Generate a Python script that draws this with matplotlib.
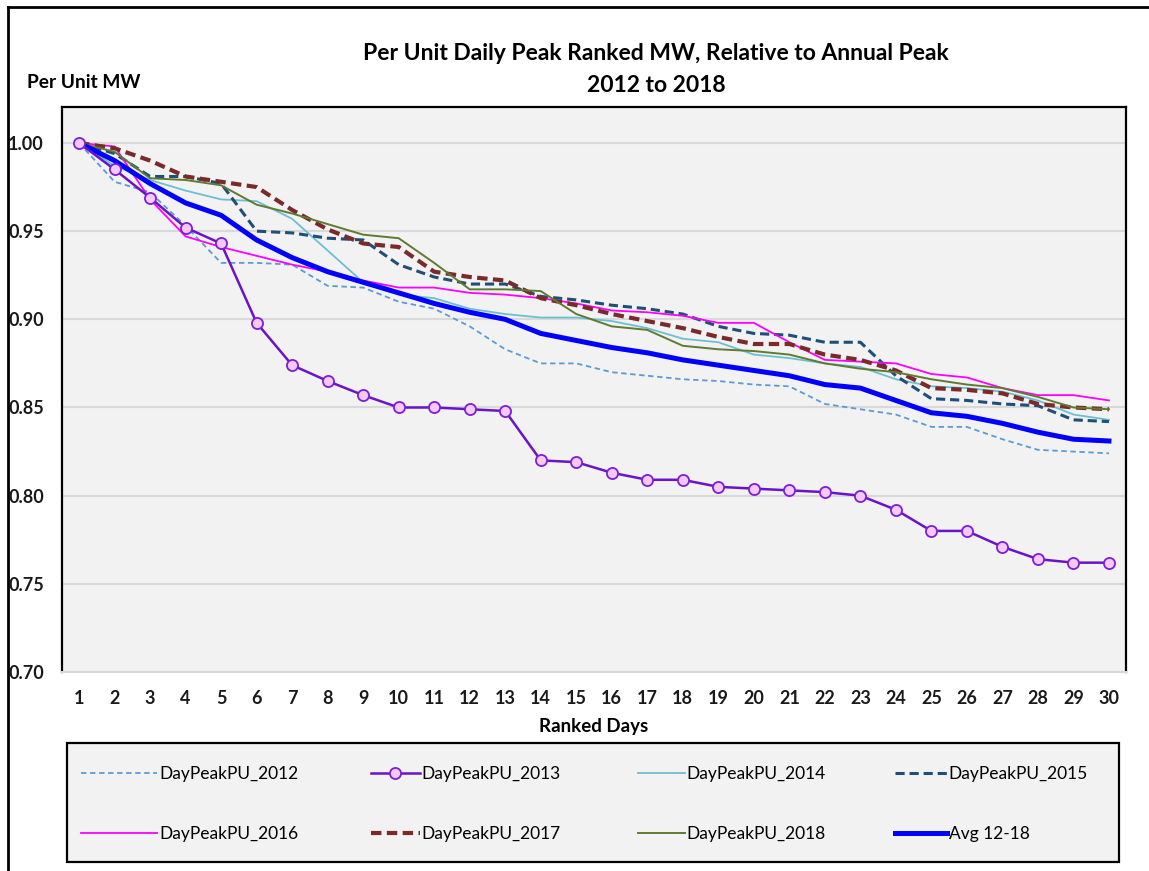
import matplotlib
matplotlib.use("Agg")
import matplotlib.pyplot as plt
from matplotlib.lines import Line2D
from matplotlib.patches import Rectangle

plt.rcParams["font.family"] = ["Lato", "DejaVu Sans"]

# ranked days and per-unit daily peaks
days = list(range(1, 31))
pu_2012 = [1.000, 0.978, 0.972, 0.953, 0.932, 0.932, 0.931, 0.919, 0.918, 0.910,
           0.906, 0.896, 0.883, 0.875, 0.875, 0.870, 0.868, 0.866, 0.865, 0.863,
           0.862, 0.852, 0.849, 0.846, 0.839, 0.839, 0.832, 0.826, 0.825, 0.824]
pu_2013 = [1.000, 0.985, 0.969, 0.952, 0.943, 0.898, 0.874, 0.865, 0.857, 0.850,
           0.850, 0.849, 0.848, 0.820, 0.819, 0.813, 0.809, 0.809, 0.805, 0.804,
           0.803, 0.802, 0.800, 0.792, 0.780, 0.780, 0.771, 0.764, 0.762, 0.762]
pu_2014 = [1.000, 0.987, 0.979, 0.973, 0.968, 0.967, 0.957, 0.939, 0.921, 0.914,
           0.912, 0.906, 0.903, 0.901, 0.901, 0.899, 0.895, 0.889, 0.887, 0.880,
           0.878, 0.875, 0.873, 0.866, 0.862, 0.861, 0.859, 0.854, 0.846, 0.843]
pu_2015 = [1.000, 0.994, 0.981, 0.981, 0.977, 0.950, 0.949, 0.946, 0.945, 0.931,
           0.924, 0.920, 0.920, 0.913, 0.911, 0.908, 0.906, 0.903, 0.896, 0.892,
           0.891, 0.887, 0.887, 0.868, 0.855, 0.854, 0.852, 0.851, 0.843, 0.842]
pu_2016 = [1.000, 0.998, 0.968, 0.947, 0.941, 0.936, 0.931, 0.927, 0.922, 0.918,
           0.918, 0.915, 0.914, 0.912, 0.909, 0.905, 0.904, 0.902, 0.898, 0.898,
           0.887, 0.877, 0.876, 0.875, 0.869, 0.867, 0.861, 0.857, 0.857, 0.854]
pu_2017 = [1.000, 0.997, 0.990, 0.981, 0.978, 0.975, 0.962, 0.951, 0.943, 0.941,
           0.927, 0.924, 0.922, 0.912, 0.908, 0.903, 0.899, 0.895, 0.890, 0.886,
           0.886, 0.880, 0.877, 0.871, 0.861, 0.860, 0.858, 0.852, 0.850, 0.849]
pu_2018 = [1.000, 0.995, 0.980, 0.979, 0.976, 0.965, 0.960, 0.954, 0.948, 0.946,
           0.932, 0.917, 0.917, 0.916, 0.903, 0.896, 0.894, 0.885, 0.883, 0.882,
           0.880, 0.875, 0.872, 0.870, 0.866, 0.863, 0.861, 0.856, 0.850, 0.849]
avg_12_18 = [1.000, 0.990, 0.977, 0.966, 0.959, 0.945, 0.935, 0.927, 0.921, 0.915,
             0.909, 0.904, 0.900, 0.892, 0.888, 0.884, 0.881, 0.877, 0.874, 0.871,
             0.868, 0.863, 0.861, 0.854, 0.847, 0.845, 0.841, 0.836, 0.832, 0.831]
y_ticks = [0.70, 0.75, 0.80, 0.85, 0.90, 0.95, 1.00]

W, H = 1149, 871
fig = plt.figure(figsize=(W / 100, H / 100), dpi=100)
fig.patch.set_facecolor("white")

# frame lines of the original screenshot (top and left only)
fig.add_artist(Line2D([8 / W, 1], [1 - 7 / H, 1 - 7 / H], color="black", lw=2))
fig.add_artist(Line2D([8 / W, 8 / W], [0, 1 - 7 / H], color="black", lw=2))

ax = fig.add_axes([62 / W, 1 - 672 / H, (1126 - 62) / W, (672 - 107) / H])
ax.set_facecolor("#F2F2F2")

series = [
    ("DayPeakPU_2012", pu_2012, dict(color="#5B9BD5", lw=1.3, ls=(0, (3, 2)))),
    ("DayPeakPU_2013", pu_2013, dict(color="#6A13C8", lw=1.8, marker="o", ms=8,
                                     mfc="#F5C8FF", mec="#7A1FD8", mew=1.3)),
    ("DayPeakPU_2014", pu_2014, dict(color="#6CBFD3", lw=1.3)),
    ("DayPeakPU_2015", pu_2015, dict(color="#1F4E79", lw=2.2, ls=(0, (3, 1.6)))),
    ("DayPeakPU_2016", pu_2016, dict(color="#FF00FF", lw=1.3)),
    ("DayPeakPU_2017", pu_2017, dict(color="#7B2A2A", lw=3.0, ls=(0, (2.5, 1.3)))),
    ("DayPeakPU_2018", pu_2018, dict(color="#5F7A32", lw=1.4)),
    ("Avg 12-18", avg_12_18, dict(color="#0000FF", lw=3.6)),
]

handles = []
for i, (name, vals, style) in enumerate(series):
    z = 10 if "marker" in style else 3 + i * 0.1
    h, = ax.plot(days, vals, label=name, zorder=z, **style)
    handles.append(h)

ax.set_xlim(0.52, 30.48)
ax.set_ylim(0.70, 1.0204)
ax.set_xticks(days)
ax.set_yticks(y_ticks)
ax.set_yticklabels([f"{v:.2f}" for v in y_ticks])
ax.yaxis.grid(True, color="#D9D9D9", lw=1.5, zorder=0)
ax.set_axisbelow(True)
ax.tick_params(length=0, labelsize=13)
ax.tick_params(axis="y", pad=13)
ax.tick_params(axis="x", pad=13)
for lab in ax.get_xticklabels() + ax.get_yticklabels():
    lab.set_fontweight("bold")
    lab.set_color("#1A1A1A")
for side in ("top", "left", "right"):
    ax.spines[side].set_color("black")
    ax.spines[side].set_linewidth(1.6)
ax.spines["bottom"].set_color("#D9D9D9")
ax.spines["bottom"].set_linewidth(1.5)

ax.set_xlabel("Ranked Days", fontsize=13.5, fontweight="bold", labelpad=8)

fig.text(656 / W, 1 - 54 / H, "Per Unit Daily Peak Ranked MW, Relative to Annual Peak",
         ha="center", va="center", fontsize=16.5, fontweight="bold")
fig.text(656 / W, 1 - 86 / H, "2012 to 2018",
         ha="center", va="center", fontsize=16.5, fontweight="bold")
fig.text(27 / W, 1 - 83 / H, "Per Unit MW", ha="left", va="center",
         fontsize=13.8, fontweight="bold")

# legend box, with one legend per column so each column sits where it should
fig.add_artist(Rectangle((67 / W, 1 - 862 / H), (1119 - 67) / W, (862 - 743) / H,
                         transform=fig.transFigure, facecolor="#F2F2F2",
                         edgecolor="black", lw=1.6, zorder=1))
col_x = [81, 371, 638, 895]
col_len = [4.4, 2.8, 2.7, 3.0]
for c in range(4):
    hs = [handles[c], handles[c + 4]]
    leg = fig.legend(hs, [h.get_label() for h in hs], loc="upper left",
                     bbox_to_anchor=(col_x[c] / W, 1 - 766 / H),
                     frameon=False, fontsize=12.5, handlelength=col_len[c],
                     handletextpad=0.1, labelspacing=2.55, borderpad=0,
                     borderaxespad=0)
    leg.set_zorder(5)

fig.savefig("out.png", dpi=100)
